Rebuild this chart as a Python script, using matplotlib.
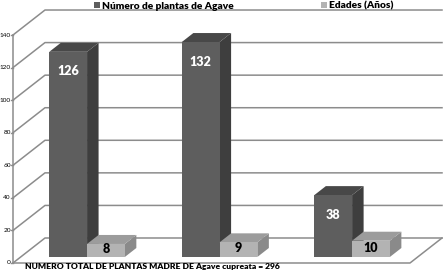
import matplotlib
matplotlib.use('Agg')
import matplotlib.pyplot as plt
from matplotlib.patches import Polygon, Patch

# data
categorias = ['Grupo 1', 'Grupo 2', 'Grupo 3']
plantas = [126, 132, 38]
edades = [8, 9, 10]
ticks = [0, 20, 40, 60, 80, 100, 120, 140]

plt.rcParams['font.family'] = ['Lato', 'DejaVu Sans']

fig = plt.figure(figsize=(4.43, 2.72), dpi=100)
ax = fig.add_axes([0, 0, 1, 1])
ax.axis('off')
ax.set_xlim(-0.606, 2.737)
ax.set_ylim(-5.53, 161.5)

# 3D depth offset of the back wall in data units
DX, DY = 0.2415, 15.35


def proj(x, v, d):
    return (x + d * DX, v + d * DY)


x_left, x_right = -0.508, 2.488
grid_c = '#8c8c8c'

# walls / gridlines
for t in ticks:
    p0 = proj(x_left, t, 0)
    p1 = proj(x_left, t, 1)
    p2 = proj(x_right, t, 1)
    ax.plot([p0[0], p1[0], p2[0]], [p0[1], p1[1], p2[1]], color=grid_c, lw=1.1, zorder=1)
    ax.plot([x_left - 0.015, x_left], [t, t], color=grid_c, lw=1.0, zorder=1)
    ax.text(x_left - 0.016, t, str(t), ha='right', va='center', fontsize=4.6, zorder=5)

# left axis and floor
ax.plot([x_left, x_left], [0, ticks[-1]], color=grid_c, lw=1.1, zorder=1)
f = [proj(x_left, 0, 0), proj(x_right, 0, 0), proj(x_right, 0, 1)]
ax.plot([p[0] for p in f], [p[1] for p in f], color=grid_c, lw=1.1, zorder=1)

w = 0.285
fd, bd = 0.24, 0.60
dark = ('#5e5e5e', '#3e3e3e', '#484848')
light = ('#b3b3b3', '#8a8a8a', '#9c9c9c')


def bar3d(x0, x1, v, cols, z):
    front = [proj(x0, 0, fd), proj(x1, 0, fd), proj(x1, v, fd), proj(x0, v, fd)]
    top = [proj(x0, v, fd), proj(x1, v, fd), proj(x1, v, bd), proj(x0, v, bd)]
    side = [proj(x1, 0, fd), proj(x1, 0, bd), proj(x1, v, bd), proj(x1, v, fd)]
    ax.add_patch(Polygon(side, closed=True, fc=cols[1], ec='none', zorder=z))
    ax.add_patch(Polygon(top, closed=True, fc=cols[2], ec='none', zorder=z))
    ax.add_patch(Polygon(front, closed=True, fc=cols[0], ec='none', zorder=z))


for i, (a, b) in enumerate(zip(plantas, edades)):
    x = i - 0.007
    bar3d(x - w, x, a, dark, 2 + 2 * i)
    bar3d(x, x + w, b, light, 3 + 2 * i)
    cx, cy = proj(x - w / 2, a - 12, fd)
    ax.text(cx, cy, str(a), ha='center', va='center', color='white',
            fontsize=9, fontweight='heavy', zorder=10)
    cx, cy = proj(x + w / 2, b / 2 + 0.8, fd)
    ax.text(cx, cy, str(b), ha='center', va='center', color='black',
            fontsize=9, fontweight='heavy', zorder=10)

handles = [Patch(fc=dark[0], ec='none'), Patch(fc=light[0], ec='none')]
fig.legend(handles, ['Número de plantas de Agave', 'Edades (Años)'],
           loc='center', bbox_to_anchor=(244 / 443, 1 - 6 / 272), ncol=2,
           frameon=False, prop={'weight': 'heavy', 'size': 7.3},
           handlelength=0.55, handleheight=0.55, handletextpad=0.25,
           columnspacing=8.6, borderpad=0, borderaxespad=0)

fig.text(25 / 443, 5.5 / 272, 'NUMERO TOTAL DE PLANTAS MADRE DE Agave cupreata = 296',
         ha='left', va='center', fontsize=6.1, fontweight='heavy')

fig.savefig('out.png', dpi=100)
